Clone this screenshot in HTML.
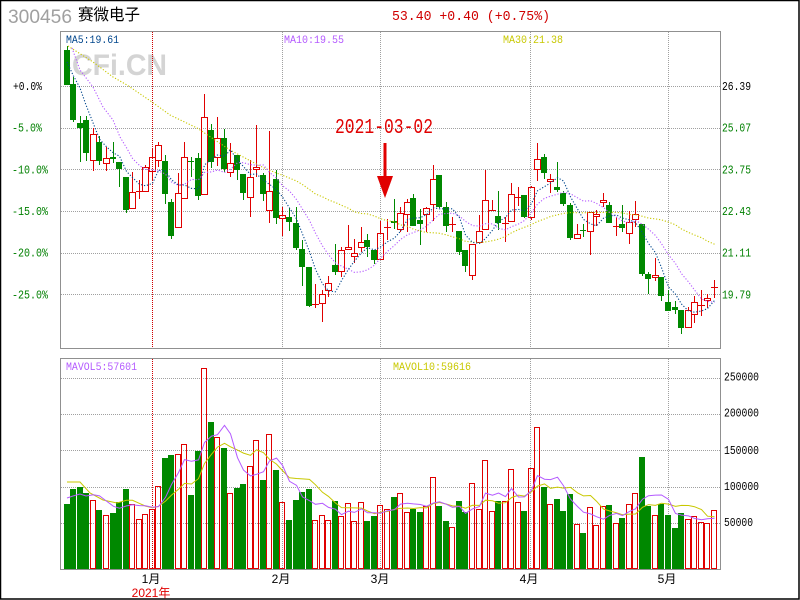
<!DOCTYPE html>
<html><head><meta charset="utf-8">
<style>
html,body{margin:0;padding:0;background:#fff;}
svg{display:block;}
</style></head>
<body>
<svg id="s" xmlns="http://www.w3.org/2000/svg" width="800" height="600" viewBox="0 0 800 600">
<rect x="0" y="0" width="800" height="600" fill="#fff"/>
<rect x="0.5" y="0.5" width="798.5" height="598.5" fill="none" stroke="#000" stroke-width="1.5"/>

<text x="8" y="23" font-family="Liberation Sans, sans-serif" font-size="19" fill="#a0a0a0" textLength="64" lengthAdjust="spacingAndGlyphs">300456</text>
<text x="78" y="20" font-family="Liberation Sans, 'Noto Sans CJK SC', sans-serif" font-size="16" fill="#000" textLength="62" lengthAdjust="spacingAndGlyphs">赛微电子</text>
<text x="392" y="20" font-family="Liberation Mono, monospace" font-size="14" fill="#d00000" textLength="158" lengthAdjust="spacingAndGlyphs">53.40 +0.40 (+0.75%)</text>

<text x="72" y="75" font-family="Liberation Sans, sans-serif" font-weight="bold" font-size="30" fill="#d4d4d4" textLength="95" lengthAdjust="spacingAndGlyphs">CFi.CN</text>

<g id="grid" shape-rendering="crispEdges"></g>

<rect x="60.5" y="31.5" width="660" height="317" fill="none" stroke="#909090" stroke-width="1" shape-rendering="crispEdges"/>
<rect x="60.5" y="358.5" width="660" height="211" fill="none" stroke="#909090" stroke-width="1" shape-rendering="crispEdges"/>

<g id="cand" shape-rendering="crispEdges"></g>
<g id="vol" shape-rendering="crispEdges"></g>
<g id="ma"></g>

<text x="66" y="43" font-family="Liberation Mono, monospace" font-size="11" fill="#00468c" textLength="53" lengthAdjust="spacingAndGlyphs">MA5:19.61</text>
<text x="284" y="43" font-family="Liberation Mono, monospace" font-size="11" fill="#b45aff" textLength="60" lengthAdjust="spacingAndGlyphs">MA10:19.55</text>
<text x="503" y="43" font-family="Liberation Mono, monospace" font-size="11" fill="#c8c800" textLength="60" lengthAdjust="spacingAndGlyphs">MA30:21.38</text>
<text x="66" y="370" font-family="Liberation Mono, monospace" font-size="11" fill="#b45aff" textLength="71" lengthAdjust="spacingAndGlyphs">MAVOL5:57601</text>
<text x="393" y="370" font-family="Liberation Mono, monospace" font-size="11" fill="#c8c800" textLength="78" lengthAdjust="spacingAndGlyphs">MAVOL10:59616</text>

<g font-family="Liberation Mono, monospace" font-size="11.5">
<text x="13" y="90" fill="#000" textLength="29" lengthAdjust="spacingAndGlyphs">+0.0%</text>
<text x="12" y="131.5" fill="#008000" textLength="30" lengthAdjust="spacingAndGlyphs">-5.0%</text>
<text x="12" y="173.3" fill="#008000" textLength="36" lengthAdjust="spacingAndGlyphs">-10.0%</text>
<text x="12" y="215" fill="#008000" textLength="36" lengthAdjust="spacingAndGlyphs">-15.0%</text>
<text x="12" y="256.7" fill="#008000" textLength="36" lengthAdjust="spacingAndGlyphs">-20.0%</text>
<text x="12" y="298.3" fill="#008000" textLength="36" lengthAdjust="spacingAndGlyphs">-25.0%</text>
<text x="722" y="90" fill="#000" textLength="29" lengthAdjust="spacingAndGlyphs">26.39</text>
<text x="722" y="131.7" fill="#008000" textLength="29" lengthAdjust="spacingAndGlyphs">25.07</text>
<text x="722" y="173.3" fill="#008000" textLength="29" lengthAdjust="spacingAndGlyphs">23.75</text>
<text x="722" y="215" fill="#008000" textLength="29" lengthAdjust="spacingAndGlyphs">22.43</text>
<text x="722" y="256.7" fill="#008000" textLength="29" lengthAdjust="spacingAndGlyphs">21.11</text>
<text x="722" y="298.3" fill="#008000" textLength="29" lengthAdjust="spacingAndGlyphs">19.79</text>
<text x="724" y="380.5" fill="#000" textLength="35" lengthAdjust="spacingAndGlyphs">250000</text>
<text x="724" y="416.7" fill="#000" textLength="35" lengthAdjust="spacingAndGlyphs">200000</text>
<text x="724" y="454" fill="#000" textLength="35" lengthAdjust="spacingAndGlyphs">150000</text>
<text x="724" y="490" fill="#000" textLength="35" lengthAdjust="spacingAndGlyphs">100000</text>
<text x="724" y="526" fill="#000" textLength="29" lengthAdjust="spacingAndGlyphs">50000</text>
</g>

<g font-family="Liberation Sans, 'Noto Sans CJK SC', sans-serif" font-size="12" text-anchor="middle">
<text x="151" y="583" fill="#000">1月</text>
<text x="281" y="583" fill="#000">2月</text>
<text x="380" y="583" fill="#000">3月</text>
<text x="529" y="583" fill="#000">4月</text>
<text x="667" y="583" fill="#000">5月</text>
<text x="151" y="597" fill="#e00000">2021年</text>
</g>

<text x="335" y="133" font-family="Liberation Mono, monospace" font-size="21" fill="#e00000" textLength="98" lengthAdjust="spacingAndGlyphs">2021-03-02</text>
<rect x="383.5" y="143" width="3" height="36" fill="#e00000"/>
<polygon points="377,176 393,176 385,198" fill="#e00000"/>
</svg>
<script>
(function(){
var C=[
['g',50,85,46,85],['g',84,120,77,122],['g',123,128,116,162],['g',120,153,116,161],['r',134,160,128,171],
['g',142,161,136,165],['r',158,163,147,171],['g',157,159,142,163],['g',162,169,162,187],['g',177,210,177,213],
['r',192,208,172,208],['r',191,192,180,199],['r',167,191,165,192],['r',157,171,148,181],['r',145,160,142,167],
['g',161,194,155,204],['g',202,236,199,239],['r',193,227,173,228],['r',157,198,142,198],['g',161,162,157,177],
['g',158,196,153,200],['r',117,194,94,194],['g',130,162,124,168],['r',138,157,117,166],['g',138,169,129,172],
['r',163,172,143,177],['g',155,170,155,180],['g',174,193,174,200],['r',177,197,160,217],['r',167,169,125,177],
['g',175,194,173,201],['r',191,210,131,223],['g',179,218,170,224],['r',215,218,207,236],['g',217,222,208,231],
['g',223,248,207,250],['g',249,267,240,286],['g',267,306,267,307],['r',304,305,284,308],['r',294,303,290,322],
['r',283,290,276,297],['g',265,272,244,275],['r',250,271,247,277],['r',247,249,225,249],['r',253,256,239,263],
['r',242,247,227,252],['g',240,247,234,257],['g',250,260,250,264],['r',233,259,221,259],['r',227,228,219,240],
['g',221,223,199,229],['r',213,229,207,232],['r',202,214,199,232],['g',198,226,194,226],['g',220,224,209,245],
['r',208,214,207,232],['r',179,204,165,221],['g',175,207,175,208],['g',207,226,202,232],['r',224,225,217,232],
['g',231,252,231,255],['g',250,266,250,272],['r',244,275,244,280],['r',231,242,215,243],['r',200,229,170,229],
['r',210,211,200,211],['g',216,223,191,230],['r',223,224,217,242],['r',194,221,183,221],['r',197,198,187,206],
['g',195,217,195,218],['r',187,217,186,220],['r',159,169,143,181],['g',157,173,154,179],['r',179,181,174,193],
['g',187,190,162,192],['g',193,204,191,206],['g',205,238,203,240],['r',234,238,224,238],['g',230,231,224,237],
['r',212,231,212,255],['r',214,216,210,226],['r',200,202,193,207],['g',205,223,202,223],['r',226,227,217,236],
['g',224,228,205,232],['r',222,233,211,244],['r',214,219,201,227],['g',224,274,224,276],['g',274,279,272,294],
['r',275,277,258,281],['g',277,296,277,301],['g',302,311,290,311],['g',307,310,301,314],['g',310,328,310,334],
['r',310,327,307,327],['r',302,314,296,323],['r',305,306,290,316],['r',298,300,294,308],['r',287,288,280,298]
];
var V=[504,489,487,493,500.3,510,515.3,513,502.3,489,
504.3,519.3,514,509.3,486.3,458,455,454.3,444.3,495,
450.7,368.3,422,437.3,448,493.3,488,484,466.3,440,
480,434.3,470,502.3,520,500,492,489,520.3,515.3,
520.3,501,516,503.3,521.3,502.3,521,516,505.3,508.7,
497,493.3,511.7,508.7,512,505.7,477,505.7,521,527.3,
501,511.7,483.3,509.3,460.3,511.3,501,501,469.3,502.3,
511,468.3,427.3,487,504.3,499,511,494,524,533,
507.3,525.3,506.3,505,523.3,518,504.3,493.3,457,505.7,
515.3,503.7,515,528,513.3,519.3,516.3,522.3,523,510.3];
var NS="http://www.w3.org/2000/svg";
var RED="#e00000",GRN="#008800";
function X(i){return Math.floor(64.3+6.535*i);}
function el(parent,tag,attrs){
  var e=document.createElementNS(NS,tag);
  for(var k in attrs){e.setAttribute(k,attrs[k]);}
  parent.appendChild(e);return e;
}
var grid=document.getElementById("grid");
var hy=[86,128,169,211,253,294,378,414,450,487,523];
hy.forEach(function(y){el(grid,"line",{x1:61,y1:y+0.5,x2:720,y2:y+0.5,stroke:"#a0a0a0","stroke-dasharray":"1 1"});});
[[152,"#d00000"],[282,"#a0a0a0"],[380,"#a0a0a0"],[530,"#a0a0a0"],[668,"#a0a0a0"]].forEach(function(v){
 el(grid,"line",{x1:v[0]+0.5,y1:32,x2:v[0]+0.5,y2:348,stroke:v[1],"stroke-dasharray":"1 1"});
 el(grid,"line",{x1:v[0]+0.5,y1:359,x2:v[0]+0.5,y2:569,stroke:v[1],"stroke-dasharray":"1 1"});
});
var cand=document.getElementById("cand");
for(var i=0;i<C.length;i++){
 var c=C[i],x=X(i),t=c[1],b=c[2],hi=c[3],lo=c[4];
 if(c[0]==='g'){
   el(cand,"rect",{x:x+3,y:hi,width:1,height:Math.max(1,lo-hi),fill:GRN});
   el(cand,"rect",{x:x,y:t,width:6,height:Math.max(1,b-t),fill:GRN});
 } else {
   if(b-t<=1){
     el(cand,"rect",{x:x+3,y:hi,width:1,height:Math.max(1,lo-hi),fill:RED});
     el(cand,"rect",{x:x,y:t,width:7,height:Math.max(1,b-t),fill:RED});
   } else {
     if(t>hi) el(cand,"rect",{x:x+3,y:hi,width:1,height:t-hi,fill:RED});
     if(lo>b) el(cand,"rect",{x:x+3,y:b,width:1,height:lo-b,fill:RED});
     el(cand,"rect",{x:x+0.5,y:t+0.5,width:6,height:b-t,fill:"none",stroke:RED,"stroke-width":1.2});
   }
 }
}
var vol=document.getElementById("vol");
for(var j=0;j<V.length;j++){
 var vx=X(j),top=Math.round(V[j]);
 if(C[j][0]==='g'){
   el(vol,"rect",{x:vx,y:top,width:6,height:569-top,fill:GRN});
 } else {
   el(vol,"rect",{x:vx+0.5,y:top+0.5,width:5,height:568-top,fill:"none",stroke:RED,"stroke-width":1.2});
 }
}
var cl=C.map(function(c){return c[0]==='r'?c[1]:c[2];});
function ma(arr,n,i){var s=0;for(var k=i-n+1;k<=i;k++)s+=arr[k];return s/n;}
function series(manual,arr,n){
 var p=manual.slice();
 for(var i=n-1;i<arr.length;i++)p.push([X(i)+3.5,ma(arr,n,i)]);
 return p.map(function(q){return q[0].toFixed(1)+','+q[1].toFixed(1);}).join(' ');
}
var m=document.getElementById("ma");
el(m,"polyline",{fill:"none",stroke:"#c8c800","stroke-width":1.1,"stroke-dasharray":"1.2 1.8",points:series([[68,46],[93,62],[113,77],[127,85],[152,102],[170,115],[197,128],[230,150]],cl,30)});
el(m,"polyline",{fill:"none",stroke:"#b45aff","stroke-width":1.1,"stroke-dasharray":"1.2 1.8",points:series([[72,48],[80,70],[93,87],[103,107],[113,120],[120,137]],cl,10)});
el(m,"polyline",{fill:"none",stroke:"#00468c","stroke-width":1.1,"stroke-dasharray":"1.2 1.8",points:series([[67,62],[73,75],[80,88],[86,105]],cl,5)});
el(m,"polyline",{fill:"none",stroke:"#c8c800","stroke-width":1,points:series([[67,482],[80,482],[90,493],[103,500],[117,503]],V,10)});
el(m,"polyline",{fill:"none",stroke:"#b45aff","stroke-width":1,points:series([[67,498],[73,496],[80,494],[86,496]],V,5)});
})();
</script>
</body></html>
